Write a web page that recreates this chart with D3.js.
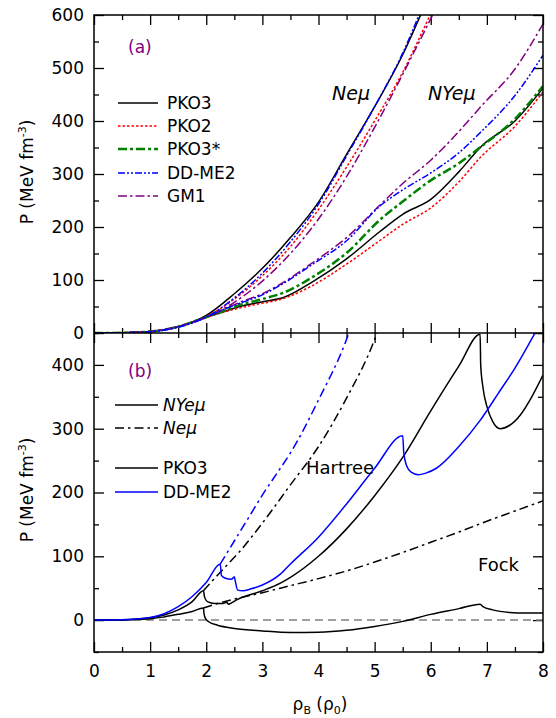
<!DOCTYPE html>
<meta charset="utf-8" />
<title>Pressure of neutron star matter</title>
<script src="https://d3js.org/d3.v7.min.js"></script>
<style>
body { margin: 0; background: #fff; }
text { font-family: 'DejaVu Sans', sans-serif; fill: black; }
.tick text { font-size: 17px; }
.tick line { stroke: black; stroke-width: 1.3; }
</style>
<div id="chart"></div>
<script>
// ---- panel (a): total pressure, points are [rho_B / rho_0, P in MeV fm^-3]
var pko3Ne  = [[0,0],[0.5,0.5],[1,2.8],[1.5,12],[2,33],[2.5,74],[3,122],[3.5,180],[4,247],[4.5,337],[5,427],[5.5,525],[5.86,610]];
var ddme2Ne = [[0,0],[0.5,0.4],[1,2.5],[1.5,11],[2,30],[2.5,66],[3,113],[3.5,172],[4,243],[4.5,334],[5,427],[5.5,528],[5.83,610]];
var pko2Ne  = [[0,0],[0.5,0.5],[1,2.8],[1.5,12],[2,31],[2.5,64],[3,108],[3.5,163],[4,233],[4.5,313],[5,400],[5.5,492],[6.03,610]];
var gm1Ne   = [[0,0],[0.5,0.5],[1,2.8],[1.5,12],[2,30],[2.5,58],[3,98],[3.5,150],[4,215],[4.5,295],[5,388],[5.5,488],[6.08,610]];

var pko3NY  = [[0,0],[0.5,0.5],[1,2.8],[1.5,12],[2,30],[2.3,40],[2.6,50],[3,59],[3.4,68],[3.9,97],[4.5,140],[5.1,192],[5.5,224],[6,252],[6.5,304],[6.9,352],[7.5,400],[8,462]];
var pko2NY  = [[0,0],[0.5,0.5],[1,2.8],[1.5,12],[2,29],[2.4,42],[2.8,52],[3.4,66],[3.9,90],[4.5,130],[5.1,175],[5.5,205],[6,236],[6.5,285],[6.9,333],[7.5,390],[8,455]];
var pko3sNY = [[0,0],[0.5,0.5],[1,2.8],[1.5,12],[2,30],[2.3,41],[2.6,53],[3,64],[3.4,77],[3.9,106],[4.5,151],[5.1,214],[5.5,248],[6,288],[6.5,320],[6.9,352],[7.5,404],[8,466]];
var ddme2NY = [[0,0],[0.5,0.4],[1,2.5],[1.5,11],[2,30],[2.3,44],[2.6,56],[3,72],[3.32,90],[3.9,130],[4.5,174],[5.1,240],[5.5,270],[6,302],[6.5,340],[6.9,380],[7.5,448],[8,524]];
var gm1NY   = [[0,0],[0.5,0.5],[1,2.8],[1.5,12],[2,30],[2.3,44],[2.6,58],[3,74],[3.32,92],[3.9,133],[4.5,180],[5.1,242],[5.5,282],[6,326],[6.5,380],[6.9,428],[7.5,498],[8,583]];

// ---- panel (b): Hartree and Fock parts
var pko3Hartree   = [[0,0],[0.5,0.4],[1,3.5],[1.25,8],[1.5,16],[1.75,29],[1.95,46],[1.97,36],[2.02,29],[2.15,26],[2.3,26],[2.36,28],[2.4,25],[2.45,27],[2.55,32],[3,46],[3.32,58],[3.5,67],[4,100],[4.5,143],[5,195],[5.5,255],[6,328],[6.5,398],[6.88,448],[6.89,400],[6.93,365],[7,335],[7.1,312],[7.24,300],[7.4,305],[7.6,322],[7.8,350],[8,384]];
var pko3Fock      = [[0,0],[0.5,0.2],[1,2],[1.25,5],[1.5,9],[1.75,13.5],[1.95,19],[1.96,10],[1.99,2],[2.05,-3],[2.2,-8],[2.5,-13],[3,-17],[3.5,-19.5],[4,-19],[4.5,-16],[5,-10],[5.5,-2],[6,9],[6.5,18],[6.88,25],[6.93,21],[7.1,16],[7.4,12],[7.7,11],[8,11]];
var pko3NeHartree = [[1.95,46],[2.25,75],[2.6,108],[3,152],[3.5,212],[4,272],[4.5,348],[5,440],[5.05,452]];
var pko3NeFock    = [[1.95,19],[2.2,26],[2.5,33],[3,43],[3.5,54],[4,65],[4.5,77],[5,91],[5.5,106],[6,122],[6.5,138],[7,155],[7.5,171],[8,187]];
var ddme2Hartree  = [[0,0],[0.5,0.5],[1,4],[1.25,10],[1.5,21],[1.75,37],[2,59],[2.25,88],[2.27,70],[2.33,66],[2.45,64],[2.5,68],[2.52,60],[2.56,47],[2.65,46],[2.8,49],[3,55],[3.32,72],[3.5,88],[4,130],[4.5,182],[5,238],[5.5,289],[5.52,262],[5.57,242],[5.65,232],[5.78,228],[5.9,230],[6.1,238],[6.5,272],[6.88,313],[7.2,355],[7.5,395],[7.87,452]];
var ddme2NeHartree = [[2.25,88],[2.5,124],[2.75,160],[3,196],[3.32,238],[3.5,262],[4,345],[4.5,440],[4.55,452]];

var xTicks = [0,1,2,3,4,5,6,7,8];
var xMinor = [0.5,1.5,2.5,3.5,4.5,5.5,6.5,7.5];
var yTicksA = [0,100,200,300,400,500,600];
var yMinorA = [50,150,250,350,450,550];
var yTicksB = [0,100,200,300,400];
var yMinorB = [-50,50,150,250,350,450];

var width = 556, height = 718;
var left = 94, right = 543, topA = 15, mid = 333, bottomB = 652;

var svg = d3.select("#chart").append("svg")
    .attr("width", width)
    .attr("height", height);

var x = d3.scaleLinear().domain([0, 8]).range([left, right]);
var yA = d3.scaleLinear().domain([0, 600]).range([mid, topA]);
var yB = d3.scaleLinear().domain([-50, 450]).range([bottomB, mid]);

var defs = svg.append("defs");
defs.append("clipPath").attr("id", "clipA").append("rect")
    .attr("x", left).attr("y", topA).attr("width", right - left).attr("height", mid - topA);
defs.append("clipPath").attr("id", "clipB").append("rect")
    .attr("x", left).attr("y", mid).attr("width", right - left).attr("height", bottomB - mid);

function noDomain(g) { g.select(".domain").remove(); }

function drawAxes(y, y0, y1, majors, minors, xLabels) {
    // left
    svg.append("g").attr("transform", "translate(" + left + ",0)")
        .call(d3.axisLeft(y).tickValues(majors).tickSize(-10).tickPadding(10)).call(noDomain);
    svg.append("g").attr("transform", "translate(" + left + ",0)")
        .call(d3.axisLeft(y).tickValues(minors).tickSize(-5).tickFormat("")).call(noDomain);
    // right
    svg.append("g").attr("transform", "translate(" + right + ",0)")
        .call(d3.axisRight(y).tickValues(majors).tickSize(-10).tickFormat("")).call(noDomain);
    svg.append("g").attr("transform", "translate(" + right + ",0)")
        .call(d3.axisRight(y).tickValues(minors).tickSize(-5).tickFormat("")).call(noDomain);
    // top
    svg.append("g").attr("transform", "translate(0," + y1 + ")")
        .call(d3.axisTop(x).tickValues(xTicks).tickSize(-10).tickFormat("")).call(noDomain);
    svg.append("g").attr("transform", "translate(0," + y1 + ")")
        .call(d3.axisTop(x).tickValues(xMinor).tickSize(-5).tickFormat("")).call(noDomain);
    // bottom
    var bx = d3.axisBottom(x).tickValues(xTicks).tickSize(-10).tickPadding(13);
    if (!xLabels) bx.tickFormat("");
    svg.append("g").attr("transform", "translate(0," + y0 + ")").call(bx).call(noDomain);
    svg.append("g").attr("transform", "translate(0," + y0 + ")")
        .call(d3.axisBottom(x).tickValues(xMinor).tickSize(-5).tickFormat("")).call(noDomain);
}

drawAxes(yA, mid, topA, yTicksA, yMinorA, false);
drawAxes(yB, bottomB, mid, yTicksB, yMinorB, true);

// ---- curves
function addCurve(g, y, data, color, dash, w) {
    g.append("path")
        .datum(data)
        .attr("fill", "none")
        .attr("stroke", color)
        .attr("stroke-width", w || 1.5)
        .attr("stroke-dasharray", dash)
        .attr("d", d3.line().x(function(d) { return x(d[0]); })
            .y(function(d) { return y(d[1]); }).curve(d3.curveMonotoneX));
}

var dotted = "2.5,2", dashDot = "9,3,2.5,3", dashDotDot = "7,2,2,2,2,2", greenDash = "9,3,3,3";

var gA = svg.append("g").attr("clip-path", "url(#clipA)");
addCurve(gA, yA, pko3Ne, "black", null);
addCurve(gA, yA, pko3NY, "black", null);
addCurve(gA, yA, pko2Ne, "#ff0000", dotted);
addCurve(gA, yA, pko2NY, "#ff0000", dotted);
addCurve(gA, yA, pko3sNY, "#008000", greenDash, 2.5);
addCurve(gA, yA, gm1Ne, "#800080", dashDot);
addCurve(gA, yA, gm1NY, "#800080", dashDot);
addCurve(gA, yA, ddme2Ne, "#0000ff", dashDotDot);
addCurve(gA, yA, ddme2NY, "#0000ff", dashDotDot);

var gB = svg.append("g").attr("clip-path", "url(#clipB)");
gB.append("line")
    .attr("x1", x(0)).attr("x2", x(8)).attr("y1", yB(0)).attr("y2", yB(0))
    .attr("stroke", "#808080").attr("stroke-width", 1.5).attr("stroke-dasharray", "8,5");
addCurve(gB, yB, pko3NeFock, "black", "9,4,2.5,4");
addCurve(gB, yB, pko3NeHartree, "black", "9,4,2.5,4");
addCurve(gB, yB, ddme2NeHartree, "#0000ff", "9,4,2.5,4");
addCurve(gB, yB, pko3Fock, "black", null);
addCurve(gB, yB, pko3Hartree, "black", null);
addCurve(gB, yB, ddme2Hartree, "#0000ff", null);

// frame
svg.append("rect").attr("x", left).attr("y", topA).attr("width", right - left).attr("height", bottomB - topA)
    .attr("fill", "none").attr("stroke", "black").attr("stroke-width", 1.5);
svg.append("line").attr("x1", left).attr("x2", right).attr("y1", mid).attr("y2", mid)
    .attr("stroke", "black").attr("stroke-width", 1.5);

// ---- legends
function legendRow(yPos, x0, x1, tx, color, dash, w, label, italic) {
    svg.append("line").attr("x1", x0).attr("x2", x1).attr("y1", yPos).attr("y2", yPos)
        .attr("stroke", color).attr("stroke-width", w || 1.5).attr("stroke-dasharray", dash);
    svg.append("text").attr("x", tx).attr("y", yPos + 6).style("font-size", "17px")
        .style("font-style", italic ? "italic" : "normal").text(label);
}
legendRow(103, 118, 158, 167, "black", null, 1.5, "PKO3");
legendRow(126, 118, 158, 167, "#ff0000", dotted, 1.5, "PKO2");
legendRow(149, 118, 158, 167, "#008000", greenDash, 2.5, "PKO3*");
legendRow(173, 118, 158, 167, "#0000ff", dashDotDot, 1.5, "DD-ME2");
legendRow(196, 118, 158, 167, "#800080", dashDot, 1.5, "GM1");

legendRow(405, 115, 158, 163, "black", null, 1.5, "NYe\u03bc", true);
legendRow(428, 115, 158, 163, "black", "9,4,2.5,4", 1.5, "Ne\u03bc", true);
legendRow(468, 115, 158, 163, "black", null, 1.5, "PKO3");
legendRow(492, 115, 158, 163, "#0000ff", null, 1.5, "DD-ME2");

// ---- annotations
svg.append("text").attr("x", 128).attr("y", 53).style("font-size", "17px").style("fill", "#800080").text("(a)");
svg.append("text").attr("x", 128).attr("y", 377).style("font-size", "17px").style("fill", "#800080").text("(b)");
svg.append("text").attr("x", 332).attr("y", 100).style("font-size", "19px").style("font-style", "italic").text("Ne\u03bc");
svg.append("text").attr("x", 428).attr("y", 100).style("font-size", "19px").style("font-style", "italic").text("NYe\u03bc");
svg.append("text").attr("x", 306).attr("y", 474).style("font-size", "18px").text("Hartree");
svg.append("text").attr("x", 478).attr("y", 571).style("font-size", "18px").text("Fock");

// axis titles
function yTitle(cy) {
    var t = svg.append("text")
        .attr("transform", "translate(33," + cy + ") rotate(-90)")
        .attr("text-anchor", "middle")
        .style("font-size", "17px");
    t.append("tspan").text("P (MeV fm");
    t.append("tspan").attr("dy", -7).style("font-size", "11px").text("-3");
    t.append("tspan").attr("dy", 7).text(")");
}
yTitle(172);
yTitle(490);

var xt = svg.append("text").attr("x", 320).attr("y", 710).attr("text-anchor", "middle").style("font-size", "17px");
xt.append("tspan").text("\u03c1");
xt.append("tspan").attr("dy", 4).style("font-size", "11px").text("B");
xt.append("tspan").attr("dy", -4).text(" (\u03c1");
xt.append("tspan").attr("dy", 4).style("font-size", "11px").text("0");
xt.append("tspan").attr("dy", -4).text(")");
</script>
